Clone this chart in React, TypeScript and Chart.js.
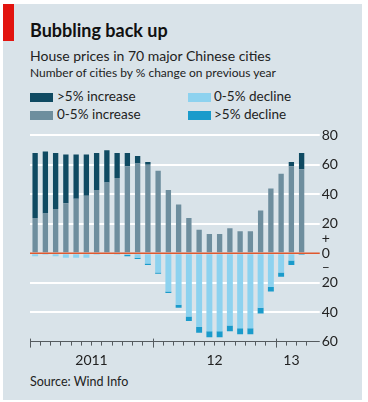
import React, { useEffect, useRef } from 'react';
import { Chart, registerables } from 'chart.js';

Chart.register(...registerables);

// ---- data (number of cities, of 70) ----
const months = [
  '2011-01', '2011-02', '2011-03', '2011-04', '2011-05', '2011-06',
  '2011-07', '2011-08', '2011-09', '2011-10', '2011-11', '2011-12',
  '2012-01', '2012-02', '2012-03', '2012-04', '2012-05', '2012-06',
  '2012-07', '2012-08', '2012-09', '2012-10', '2012-11', '2012-12',
  '2013-01', '2013-02', '2013-03',
];
const increaseOver5 = [44, 42, 38, 33, 30, 28, 25, 22, 17, 9, 5, 2, 0, 0, 0, 0, 0, 0, 0, 0, 0, 0, 0, 0, 0, 3, 11];
const increase0to5 = [24, 27, 30, 34, 37, 39, 43, 48, 51, 59, 61, 60, 56, 43, 33, 24, 16, 13, 13, 17, 15, 15, 29, 44, 54, 59, 57];
const decline0to5 = [2, 1, 2, 3, 3, 3, 1, 0, 1, 1, 3, 7, 13, 26, 35, 43, 50, 53, 53, 49, 51, 51, 37, 23, 13, 5, 0];
const declineOver5 = [0, 0, 0, 0, 0, 0, 0, 0, 0, 1, 1, 1, 1, 1, 2, 3, 4, 4, 4, 4, 4, 4, 4, 3, 3, 3, 1];
const yearLabels = ['2011', '12', '13'];
const yTickValues = [80, 60, 40, 20, 10, 0, -10, -20, -40, -60];

// ---- styles ----
const BG = '#d9e3e9';
const C_INC5 = '#0f4a62';
const C_INC0 = '#6e8e9e';
const C_DEC0 = '#8dd2ef';
const C_DEC5 = '#1a9bcb';
const ZERO = '#e0582e';
const AXIS = '#555b5f';
const TEXT = '#222';
const FONT = 'Lato, "Open Sans", sans-serif';

const overlay = {
  id: 'overlay',
  afterDatasetsDraw(chart: any) {
    const { ctx, chartArea, scales } = chart;
    const y0 = scales.y.getPixelForValue(0);
    ctx.save();
    ctx.strokeStyle = ZERO;
    ctx.lineWidth = 1.5;
    ctx.beginPath();
    ctx.moveTo(chartArea.left, y0);
    ctx.lineTo(chartArea.right + 13, y0);
    ctx.stroke();
    ctx.restore();
  },
  afterDraw(chart: any) {
    const { ctx, chartArea, scales } = chart;
    const x = scales.x;
    const half = (x.getPixelForValue(1) - x.getPixelForValue(0)) / 2;
    ctx.save();
    ctx.strokeStyle = AXIS;
    ctx.lineWidth = 1;
    const years: string[] = [];
    months.forEach((m, i) => {
      const yr = m.slice(0, 4);
      if (!years.includes(yr)) {
        years.push(yr);
        const xb = Math.round(x.getPixelForValue(i) - half) + 0.5;
        ctx.beginPath();
        ctx.moveTo(xb, chartArea.bottom - 3);
        ctx.lineTo(xb, chartArea.bottom + 6);
        ctx.stroke();
      }
    });
    ctx.fillStyle = TEXT;
    ctx.font = `14px ${FONT}`;
    ctx.textAlign = 'center';
    ctx.textBaseline = 'alphabetic';
    years.forEach((yr, k) => {
      const idx = months.map((m, i) => (m.startsWith(yr) ? i : -1)).filter((i) => i >= 0);
      const cx = (x.getPixelForValue(idx[0]) + x.getPixelForValue(idx[idx.length - 1])) / 2;
      ctx.fillText(yearLabels[k], cx, 365);
    });
    ctx.restore();
  },
};

export default function App() {
  const ref = useRef<HTMLCanvasElement>(null);

  useEffect(() => {
    document.body.style.margin = '0';
    const chart = new Chart(ref.current!, {
      type: 'bar',
      data: {
        labels: months,
        datasets: [
          { label: '0-5% increase', data: increase0to5, backgroundColor: C_INC0, barPercentage: 0.52, categoryPercentage: 1 },
          { label: '>5% increase', data: increaseOver5, backgroundColor: C_INC5, barPercentage: 0.52, categoryPercentage: 1 },
          { label: '0-5% decline', data: decline0to5.map((v) => -v), backgroundColor: C_DEC0, barPercentage: 0.58, categoryPercentage: 1 },
          { label: '>5% decline', data: declineOver5.map((v) => -v), backgroundColor: C_DEC5, barPercentage: 0.58, categoryPercentage: 1 },
        ],
      },
      options: {
        responsive: false,
        animation: false,
        events: [],
        layout: { padding: { left: 30, top: 135.4, right: 0, bottom: 0 } },
        plugins: { legend: { display: false }, tooltip: { enabled: false } },
        scales: {
          x: {
            stacked: true,
            offset: true,
            afterFit: (s: any) => { s.height = 402 - 341.6; },
            grid: {
              offset: true,
              drawOnChartArea: false,
              drawTicks: true,
              tickLength: 4,
              color: AXIS,
              lineWidth: 1,
            },
            border: { display: true, color: AXIS, width: 1 },
            ticks: { display: false, autoSkip: false },
          },
          y: {
            stacked: true,
            position: 'right',
            min: -60,
            max: 80,
            afterBuildTicks: (s: any) => { s.ticks = yTickValues.map((v) => ({ value: v })); },
            afterFit: (s: any) => { s.width = 368 - 306.75; },
            grid: {
              drawTicks: true,
              tickLength: 13,
              color: (c: any) => {
                const v = c.tick?.value;
                if (v === -60) return AXIS;
                if (v === 0 || v === 10 || v === -10) return 'rgba(0,0,0,0)';
                return '#ffffff';
              },
              lineWidth: (c: any) => (c.tick?.value === -60 ? 1 : 2),
            },
            border: { display: false },
            ticks: {
              padding: 2,
              color: TEXT,
              font: { family: FONT, size: 14 },
              callback: (v: any) => (v === 10 ? '+' : v === -10 ? '–' : String(Math.abs(v))),
            },
          },
        },
      },
      plugins: [overlay],
    } as any);
    return () => chart.destroy();
  }, []);

  const txt = (top: number, size: number, weight: number, text: string, left = 30, color = TEXT) => (
    <div style={{ position: 'absolute', left, top, fontSize: size, lineHeight: `${size}px`, fontWeight: weight, fontFamily: FONT, color, whiteSpace: 'nowrap' }}>{text}</div>
  );
  const swatch = (left: number, top: number, color: string) => (
    <div style={{ position: 'absolute', left, top, width: 23, height: 9, background: color }} />
  );

  return (
    <div style={{ position: 'relative', width: 368, height: 402, background: '#ffffff', overflow: 'hidden' }}>
      <div style={{ position: 'absolute', left: 3, top: 4, width: 359, height: 396, background: BG }} />
      <div style={{ position: 'absolute', left: 3, top: 4, width: 11, height: 37, background: '#e2140f' }} />
      {txt(20.7, 18, 700, 'Bubbling back up', 30, '#111')}
      {txt(48.6, 14, 400, 'House prices in 70 major Chinese cities')}
      {txt(66.7, 12, 400, 'Number of cities by % change on previous year')}
      {swatch(30, 93, C_INC5)}
      {txt(90, 13.5, 400, '>5% increase', 57)}
      {swatch(30, 111, C_INC0)}
      {txt(108, 13.5, 400, '0-5% increase', 57)}
      {swatch(188, 93, C_DEC0)}
      {txt(90, 13.5, 400, '0-5% decline', 214)}
      {swatch(188, 111, C_DEC5)}
      {txt(108, 13.5, 400, '>5% decline', 214)}
      {txt(376, 12.5, 400, 'Source: Wind Info')}
      <canvas ref={ref} width={368} height={402} style={{ position: 'absolute', left: 0, top: 0 }} />
    </div>
  );
}
